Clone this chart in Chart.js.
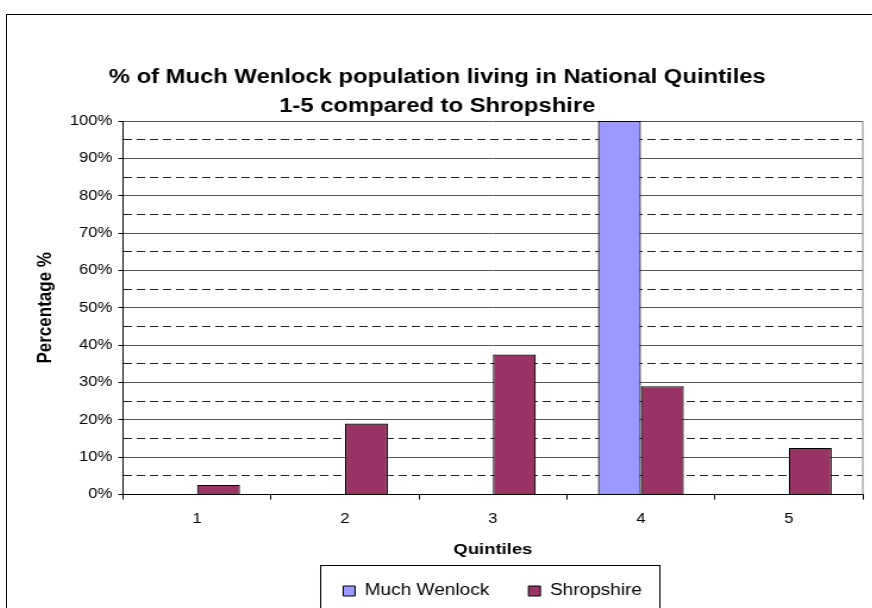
<!DOCTYPE html>
<html>
<head>
<meta charset="utf-8">
<script src="https://cdn.jsdelivr.net/npm/chart.js@4/dist/chart.umd.min.js"></script>
<style>
  html, body { margin: 0; padding: 0; background: #fff; overflow: hidden; }
  #frame { position: absolute; left: 6px; top: 14px; width: 876px; height: 613px; border: 1px solid #000; }
  /* the original picture is a little wider than it is tall, so the canvas is drawn narrow and stretched */
  #bars { display: block; width: 876px !important; height: 613px !important; }
</style>
</head>
<body>
<div id="frame"><canvas id="bars" width="736" height="613"></canvas></div>
<script>
  // data
  var quintiles = ['1', '2', '3', '4', '5'];
  var muchWenlock = [0, 0, 0, 100, 0];
  var shropshire = [2.6, 19, 37.5, 29, 12.5];
  var titleLines = ['% of Much Wenlock population living in National Quintiles', '1-5 compared to Shropshire'];

  var FONT = "'Liberation Sans', Arial, sans-serif";

  // legend sits under the plot inside a box, plot has a grey right edge
  var framePlugin = {
    id: 'framePlugin',
    afterLayout: function(chart) {
      var lg = chart.legend;
      lg.left = 80;
      lg.right = chart.width;
      lg.top = 535;
    },
    afterDraw: function(chart) {
      var ctx = chart.ctx;
      var a = chart.chartArea;
      ctx.save();
      ctx.strokeStyle = '#808080';
      ctx.lineWidth = 1;
      ctx.beginPath();
      ctx.moveTo(a.right, a.top);
      ctx.lineTo(a.right, a.bottom);
      ctx.stroke();
      var boxes = chart.legend.legendHitBoxes;
      if (boxes && boxes.length) {
        var first = boxes[0], last = boxes[boxes.length - 1];
        var x0 = first.left - 19, x1 = last.left + last.width + 15;
        var y0 = first.top + first.height / 2 - 26;
        ctx.strokeStyle = '#000';
        ctx.strokeRect(x0, Math.round(y0) + 0.5, x1 - x0, 90);
      }
      ctx.restore();
    }
  };

  var mChart = new Chart(document.getElementById('bars'), {
    type: 'bar',
    data: {
      labels: quintiles,
      datasets: [{
          label: 'Much Wenlock',
          data: muchWenlock,
          backgroundColor: '#9999FF',
          borderColor: '#000',
          borderWidth: 1.2
        }, {
          label: 'Shropshire',
          data: shropshire,
          backgroundColor: '#993366',
          borderColor: '#000',
          borderWidth: 1.2
        }
      ]
    },
    plugins: [framePlugin],
    options: {
      responsive: false,
      animation: false,
      devicePixelRatio: 1,
      layout: { padding: { left: 4, right: 17, top: 0, bottom: 0 } },
      datasets: { bar: { categoryPercentage: 0.58, barPercentage: 1.0 } },
      plugins: {
        title: {
          display: true,
          text: titleLines,
          color: '#000',
          font: { family: FONT, size: 20, weight: 'bold', lineHeight: 1.45 },
          padding: { top: 48, bottom: 0 }
        },
        legend: {
          position: 'bottom',
          labels: {
            color: '#000',
            font: { family: FONT, size: 16 },
            boxWidth: 10,
            boxHeight: 10,
            padding: 33,
            generateLabels: function(chart) {
              return chart.data.datasets.map(function(ds, i) {
                return { text: ds.label, fillStyle: ds.backgroundColor, strokeStyle: '#000', lineWidth: 1, datasetIndex: i, fontColor: '#000' };
              });
            }
          }
        },
        tooltip: { enabled: false }
      },
      scales: {
        x: {
          grid: { drawOnChartArea: false, color: '#000', tickLength: 5, offset: true },
          border: { color: '#000' },
          ticks: { color: '#000', font: { family: FONT, size: 14 }, padding: 11 },
          title: {
            display: true,
            text: 'Quintiles',
            color: '#000',
            font: { family: FONT, size: 15.5, weight: 'bold' },
            padding: { top: 2, bottom: 10 }
          }
        },
        y: {
          min: 0,
          max: 100,
          ticks: {
            stepSize: 5,
            autoSkip: false,
            color: '#000',
            font: { family: FONT, size: 14 },
            padding: 5,
            callback: function(v) { return v % 10 === 0 ? v + '%' : ''; }
          },
          grid: {
            color: function(c) { return c.tick && c.tick.value % 10 !== 0 ? '#222' : '#555'; },
            lineWidth: 1,
            tickLength: 4,
            tickColor: function(c) { return c.tick && c.tick.value % 10 !== 0 ? 'rgba(0,0,0,0)' : '#000'; }
          },
          border: {
            color: '#000',
            dash: function(c) { return c.tick && c.tick.value % 10 !== 0 ? [7, 4] : []; }
          },
          title: {
            display: true,
            text: 'Percentage %',
            color: '#000',
            font: { family: FONT, size: 17, weight: 'bold' },
            padding: { top: 18, bottom: 0 }
          },
          afterFit: function(scale) { scale.width = 93.5; }
        }
      }
    }
  });
</script>
</body>
</html>
